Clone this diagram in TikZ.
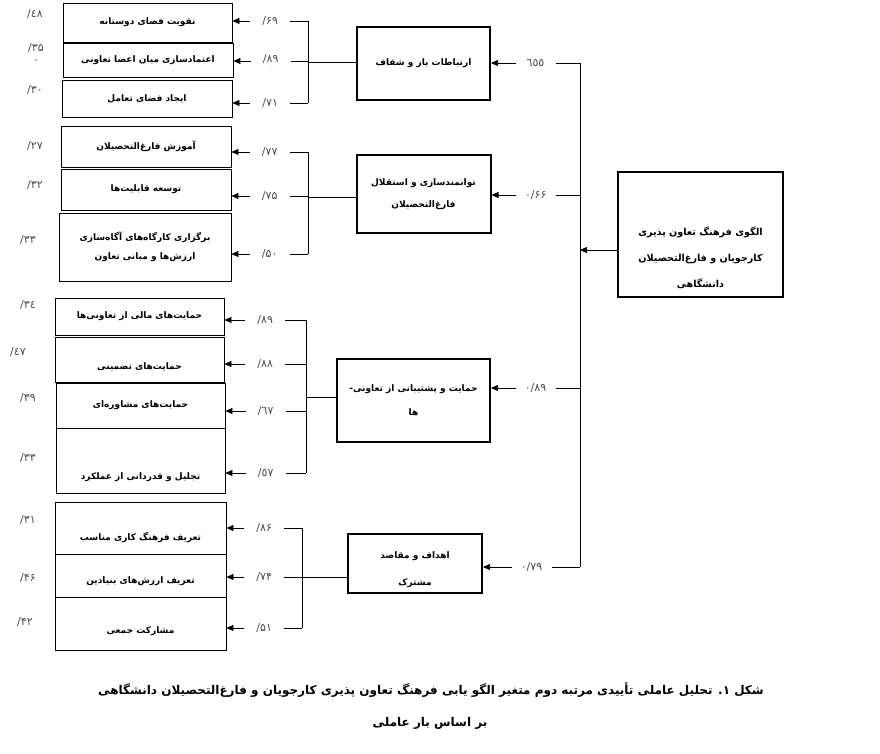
\documentclass[tikz,border=0pt]{standalone}
\usepackage{fontspec}
\newfontfamily\arabicfont[Script=Arabic]{DejaVu Sans}
\newfontfamily\numfont{DejaVu Sans}
\TeXXeTstate=1
\usepackage{tikz}
\usetikzlibrary{arrows.meta,positioning}
\newcommand{\fatext}[1]{{\arabicfont\beginR #1\endR}}
\tikzset{
  itembox/.style={draw, line width=0.8pt, inner sep=0pt,
                  font=\bfseries\fontsize{9pt}{11pt}\selectfont},
  factorbox/.style={draw, line width=2pt, inner sep=0pt, align=center,
                    font=\bfseries\fontsize{9pt}{11pt}\selectfont},
  mainbox/.style={draw, line width=2.2pt, inner sep=0pt,
                  font=\bfseries\fontsize{9.6pt}{12pt}\selectfont},
  loadlabel/.style={fill=white, inner sep=1pt, minimum width=40pt,
                    font=\numfont\fontsize{11pt}{12pt}\selectfont, text=black!70},
  sidelabel/.style={font=\numfont\fontsize{11pt}{12pt}\selectfont, text=black!70},
  textdown/.style={text height=#1, text depth=2pt},
  link/.style={line width=0.6pt},
  arr/.style={-{Triangle[length=7pt,width=6pt]}, line width=0.6pt},
  captiontext/.style={font=\bfseries\fontsize{12pt}{14pt}\selectfont},
}

\begin{document}
\begin{tikzpicture}[x=1pt,y=-1pt]
  \useasboundingbox (0,0) rectangle (880,754);
  % main construct and trunk
  \node[mainbox, minimum width=165pt, minimum height=125pt] (model) at (700.5,234.5)
    {\raisebox{-27pt}[0pt][0pt]{\begin{tabular}{@{}c@{}}\fatext{الگوی فرهنگ تعاون پذیری}\\[14pt]
      \fatext{کارجویان و  فارغ^^^^200cالتحصیلان}\\[14pt]\fatext{دانشگاهی}\end{tabular}}};
  \coordinate (t1) at (580,63);
  \coordinate (t2) at (580,195);
  \coordinate (t3) at (580,388);
  \coordinate (t4) at (580,567);
  \coordinate (tm) at (580,250);
  \draw[link] (t1) -- (t4);
  \draw[arr] (model.west |- tm) -- (tm);
  % factors
  \node[factorbox, minimum width=133pt, minimum height=73pt] (comm) at (423.5,63.5)
    {\fatext{ارتباطات باز و شفاف}};
  \node[factorbox, minimum width=134pt, minimum height=78pt] (enab) at (423.5,194)
    {\fatext{توانمندسازی و استقلال}\\[11pt]\fatext{فارغ^^^^200cالتحصیلان}};
  \node[factorbox, minimum width=153pt, minimum height=83pt] (supp) at (413.5,400.5)
    {\fatext{حمایت و پشتیبانی از تعاونی-}\\[13pt]\fatext{ها}};
  \node[factorbox, minimum width=134pt, minimum height=59pt] (goal) at (415,563.5)
    {\rule{0pt}{19pt}\fatext{اهداف و مقاصد}\\[16pt]\fatext{مشترک}};
  \draw[arr] (t1) -- node[loadlabel]{٦٥٥} (t1 -| comm.east);
  \draw[arr] (t2) -- node[loadlabel]{۰/۶۶} (t2 -| enab.east);
  \draw[arr] (t3) -- node[loadlabel]{۰/۸۹} (t3 -| supp.east);
  \draw[arr] (t4) -- node[loadlabel]{۰/۷۹} (t4 -| goal.east);

  % group 1 items
  \node[itembox, minimum width=169pt, minimum height=39pt] (a1) at (147.5,22.5) {\fatext{تقویت فضای دوستانه}};
  \node[itembox, minimum width=170pt, minimum height=34pt] (a2) at (148,60) {\fatext{اعتمادسازی میان اعضا تعاونی}};
  \node[itembox, minimum width=170pt, minimum height=37pt] (a3) at (147,98.5) {\fatext{ایجاد فضای تعامل}};
  \coordinate (a1k) at (308,21);
  \coordinate (a2k) at (308,61);
  \coordinate (a3k) at (308,103);
  \coordinate (k1) at (308,62);
  \draw[link] (a1k) -- (a3k);
  \draw[link] (k1) -- (k1 -| comm.west);
  \draw[arr] (a1k) -- node[loadlabel]{/۶۹} (a1k -| a1.east);
  \draw[arr] (a2k) -- node[loadlabel, align=center]{/۸۹\\[-6pt]{\fontsize{5pt}{5pt}\selectfont ۰}} (a2k -| a2.east);
  \draw[arr] (a3k) -- node[loadlabel]{/۷۱} (a3k -| a3.east);
  \node[sidelabel] (va1) at (35,14) {/٤٨};
  \node[sidelabel, align=center] (va2) at (36,53) {/۳۵\\[0pt]۰};
  \node[sidelabel] (va3) at (35,90) {/۳۰};

  % group 2 items
  \node[itembox, minimum width=170pt, minimum height=41pt] (b1) at (146,146.5) {\fatext{آموزش فارغ^^^^200cالتحصیلان}};
  \node[itembox, minimum width=170pt, minimum height=41pt] (b2) at (146,189.5) {\fatext{توسعه قابلیت^^^^200cها}};
  \node[itembox, align=center, minimum width=172pt, minimum height=68pt] (b3) at (145,247)
    {\fatext{برگزاری کارگاه^^^^200cهای آگاه^^^^200cسازی}\\[8pt]\fatext{ارزش^^^^200cها و مبانی تعاون}};
  \coordinate (b1k) at (308,152);
  \coordinate (b2k) at (308,196);
  \coordinate (b3k) at (308,254);
  \coordinate (k2) at (308,197);
  \draw[link] (b1k) -- (b3k);
  \draw[link] (k2) -- (k2 -| enab.west);
  \draw[arr] (b1k) -- node[loadlabel]{/۷۷} (b1k -| b1.east);
  \draw[arr] (b2k) -- node[loadlabel]{/۷۵} (b2k -| b2.east);
  \draw[arr] (b3k) -- node[loadlabel]{/۵۰} (b3k -| b3.east);
  \node[sidelabel] (vb1) at (35,146) {/۲۷};
  \node[sidelabel] (vb2) at (35,185) {/۳۲};
  \node[sidelabel] (vb3) at (28,240) {/۳۳};

  % group 3 items
  \node[itembox, minimum width=169pt, minimum height=37pt] (c1) at (139.5,316.5) {\fatext{حمایت^^^^200cهای مالی از تعاونی^^^^200cها}};
  \node[itembox, textdown=22pt, minimum width=169pt, minimum height=45pt] (c2) at (139.5,359.5) {\fatext{حمایت^^^^200cهای تضمینی}};
  \node[itembox, minimum width=169pt, minimum height=45pt] (c3) at (140.5,405.5) {\fatext{حمایت^^^^200cهای مشاوره^^^^200cای}};
  \node[itembox, textdown=40pt, minimum width=169pt, minimum height=65pt] (c4) at (140.5,460.5) {\fatext{تجلیل و قدردانی از عملکرد}};
  \coordinate (c1k) at (306,320);
  \coordinate (c2k) at (306,364);
  \coordinate (c3k) at (306,411);
  \coordinate (c4k) at (306,473);
  \coordinate (k3) at (306,397);
  \draw[link] (c1k) -- (c4k);
  \draw[link] (k3) -- (k3 -| supp.west);
  \draw[arr] (c1k) -- node[loadlabel]{/۸۹} (c1k -| c1.east);
  \draw[arr] (c2k) -- node[loadlabel]{/۸۸} (c2k -| c2.east);
  \draw[arr] (c3k) -- node[loadlabel]{/٦٧} (c3k -| c3.east);
  \draw[arr] (c4k) -- node[loadlabel]{/٥٧} (c4k -| c4.east);
  \node[sidelabel] (vc1) at (28,305) {/۳٤};
  \node[sidelabel] (vc2) at (18,352) {/٤٧};
  \node[sidelabel] (vc3) at (28,398) {/۳۹};
  \node[sidelabel] (vc4) at (28,458) {/۳۳};

  % group 4 items
  \node[itembox, textdown=26pt, minimum width=171pt, minimum height=52pt] (d1) at (140.5,528) {\fatext{تعریف فرهنگ کاری مناسب}};
  \node[itembox, textdown=18pt, minimum width=171pt, minimum height=43pt] (d2) at (140.5,575.5) {\fatext{تعریف ارزش^^^^200cهای بنیادین}};
  \node[itembox, textdown=22pt, minimum width=171pt, minimum height=53pt] (d3) at (140.5,623.5) {\fatext{مشارکت جمعی}};
  \coordinate (d1k) at (302,528);
  \coordinate (d2k) at (302,577);
  \coordinate (d3k) at (302,628);
  \coordinate (k4) at (302,577);
  \draw[link] (d1k) -- (d3k);
  \draw[link] (k4) -- (k4 -| goal.west);
  \draw[arr] (d1k) -- node[loadlabel]{/۸۶} (d1k -| d1.east);
  \draw[arr] (d2k) -- node[loadlabel]{/۷۴} (d2k -| d2.east);
  \draw[arr] (d3k) -- node[loadlabel]{/۵۱} (d3k -| d3.east);
  \node[sidelabel] (vd1) at (28,520) {/۳۱};
  \node[sidelabel] (vd2) at (28,578) {/۴۶};
  \node[sidelabel] (vd3) at (25,622) {/۴۲};

  % caption
  \node[captiontext] (cap1) at (431,690) {\fatext{شکل ۱. تحلیل عاملی تأییدی مرتبه دوم متغیر الگو یابی فرهنگ تعاون پذیری کارجویان و فارغ^^^^200cالتحصیلان دانشگاهی}};
  \node[captiontext] (cap2) at (430,723) {\fatext{بر اساس بار عاملی}};
\end{tikzpicture}
\end{document}
